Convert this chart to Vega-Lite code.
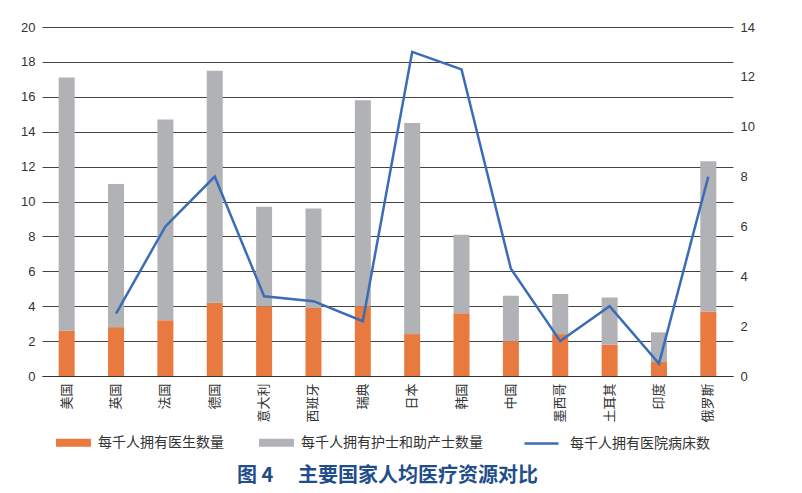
{
  "$schema": "https://vega.github.io/schema/vega-lite/v6.json",
  "width": 691,
  "height": 349,
  "autosize": {"type": "none"},
  "padding": {"left": 42, "top": 27, "right": 69, "bottom": 117},
  "background": "white",
  "config": {"view": {"stroke": null}, "font": "Noto Sans CJK SC"},
  "title": {
    "text": "图 4　 主要国家人均医疗资源对比",
    "orient": "bottom",
    "frame": "group",
    "anchor": "middle",
    "fontSize": 20,
    "fontWeight": "bold",
    "color": "#1F4E8A",
    "font": "Noto Sans CJK SC",
    "offset": 15
  },
  "data": {
    "values": [
      {"国家": "美国", "每千人拥有医生数量": 2.6, "每千人拥有护士和助产士数量": 14.5, "每千人拥有医院病床数": null},
      {"国家": "英国", "每千人拥有医生数量": 2.8, "每千人拥有护士和助产士数量": 8.2, "每千人拥有医院病床数": 2.5},
      {"国家": "法国", "每千人拥有医生数量": 3.2, "每千人拥有护士和助产士数量": 11.5, "每千人拥有医院病床数": 6.0},
      {"国家": "德国", "每千人拥有医生数量": 4.2, "每千人拥有护士和助产士数量": 13.3, "每千人拥有医院病床数": 8.0},
      {"国家": "意大利", "每千人拥有医生数量": 4.0, "每千人拥有护士和助产士数量": 5.7, "每千人拥有医院病床数": 3.2},
      {"国家": "西班牙", "每千人拥有医生数量": 3.9, "每千人拥有护士和助产士数量": 5.7, "每千人拥有医院病床数": 3.0},
      {"国家": "瑞典", "每千人拥有医生数量": 4.0, "每千人拥有护士和助产士数量": 11.8, "每千人拥有医院病床数": 2.2},
      {"国家": "日本", "每千人拥有医生数量": 2.4, "每千人拥有护士和助产士数量": 12.1, "每千人拥有医院病床数": 13.0},
      {"国家": "韩国", "每千人拥有医生数量": 3.6, "每千人拥有护士和助产士数量": 4.5, "每千人拥有医院病床数": 12.3},
      {"国家": "中国", "每千人拥有医生数量": 2.0, "每千人拥有护士和助产士数量": 2.6, "每千人拥有医院病床数": 4.3},
      {"国家": "墨西哥", "每千人拥有医生数量": 2.4, "每千人拥有护士和助产士数量": 2.3, "每千人拥有医院病床数": 1.4},
      {"国家": "土耳其", "每千人拥有医生数量": 1.8, "每千人拥有护士和助产士数量": 2.7, "每千人拥有医院病床数": 2.8},
      {"国家": "印度", "每千人拥有医生数量": 0.8, "每千人拥有护士和助产士数量": 1.7, "每千人拥有医院病床数": 0.5},
      {"国家": "俄罗斯", "每千人拥有医生数量": 3.7, "每千人拥有护士和助产士数量": 8.6, "每千人拥有医院病床数": 8.0}
    ]
  },
  "encoding": {
    "x": {
      "field": "国家",
      "type": "nominal",
      "sort": null,
      "scale": {"padding": 0},
      "axis": {
        "title": null,
        "labelAngle": -90,
        "ticks": false,
        "domainColor": "#333333",
        "domainWidth": 1,
        "labelFontSize": 13,
        "labelColor": "#333333",
        "labelPadding": 7,
        "labelFont": "Noto Sans CJK SC",
        "grid": false
      }
    }
  },
  "layer": [
    {
      "transform": [{"fold": ["每千人拥有医生数量", "每千人拥有护士和助产士数量"]}],
      "mark": {"type": "bar", "size": 16},
      "encoding": {
        "y": {
          "field": "value",
          "type": "quantitative",
          "stack": "zero",
          "scale": {"domain": [0, 20]},
          "axis": {
            "title": null,
            "values": [0, 2, 4, 6, 8, 10, 12, 14, 16, 18, 20],
            "ticks": false,
            "domain": false,
            "grid": true,
            "gridColor": "#444444",
            "gridWidth": 1,
            "labelFont": "Liberation Sans",
            "labelFontSize": 13,
            "labelColor": "#333333",
            "labelPadding": 7
          }
        },
        "order": {"field": "key", "sort": "ascending"},
        "fill": {
          "field": "key",
          "type": "nominal",
          "scale": {
            "domain": ["每千人拥有医生数量", "每千人拥有护士和助产士数量"],
            "range": ["#E8793F", "#B1B2B5"]
          },
          "legend": {
            "title": null,
            "orient": "none",
            "direction": "horizontal",
            "legendX": 14,
            "legendY": 398,
            "symbolType": "M-1,-0.2286H1V0.2286H-1Z",
            "symbolSize": 1225,
            "symbolStrokeWidth": 0,
            "labelOffset": 7,
            "columnPadding": 35,
            "labelFontSize": 14,
            "labelColor": "#333333",
            "labelFont": "Noto Sans CJK SC",
            "labelLimit": 300
          }
        }
      }
    },
    {
      "mark": {"type": "line", "strokeWidth": 2.5},
      "encoding": {
        "y": {
          "field": "每千人拥有医院病床数",
          "type": "quantitative",
          "scale": {"domain": [0, 14]},
          "axis": {
            "orient": "right",
            "title": null,
            "values": [0, 2, 4, 6, 8, 10, 12, 14],
            "ticks": false,
            "domain": false,
            "grid": false,
            "labelFont": "Liberation Sans",
            "labelFontSize": 13,
            "labelColor": "#333333",
            "labelPadding": 7
          }
        },
        "stroke": {
          "datum": "每千人拥有医院病床数",
          "type": "nominal",
          "scale": {"range": ["#3B6CB7"]},
          "legend": {
            "title": null,
            "orient": "none",
            "legendX": 481,
            "legendY": 398,
            "symbolType": "stroke",
            "symbolSize": 1156,
            "symbolStrokeWidth": 2.5,
            "labelOffset": 10,
            "labelFontSize": 14,
            "labelColor": "#333333",
            "labelFont": "Noto Sans CJK SC",
            "labelLimit": 300
          }
        }
      }
    }
  ],
  "resolve": {"scale": {"y": "independent", "fill": "independent", "stroke": "independent"}}
}
